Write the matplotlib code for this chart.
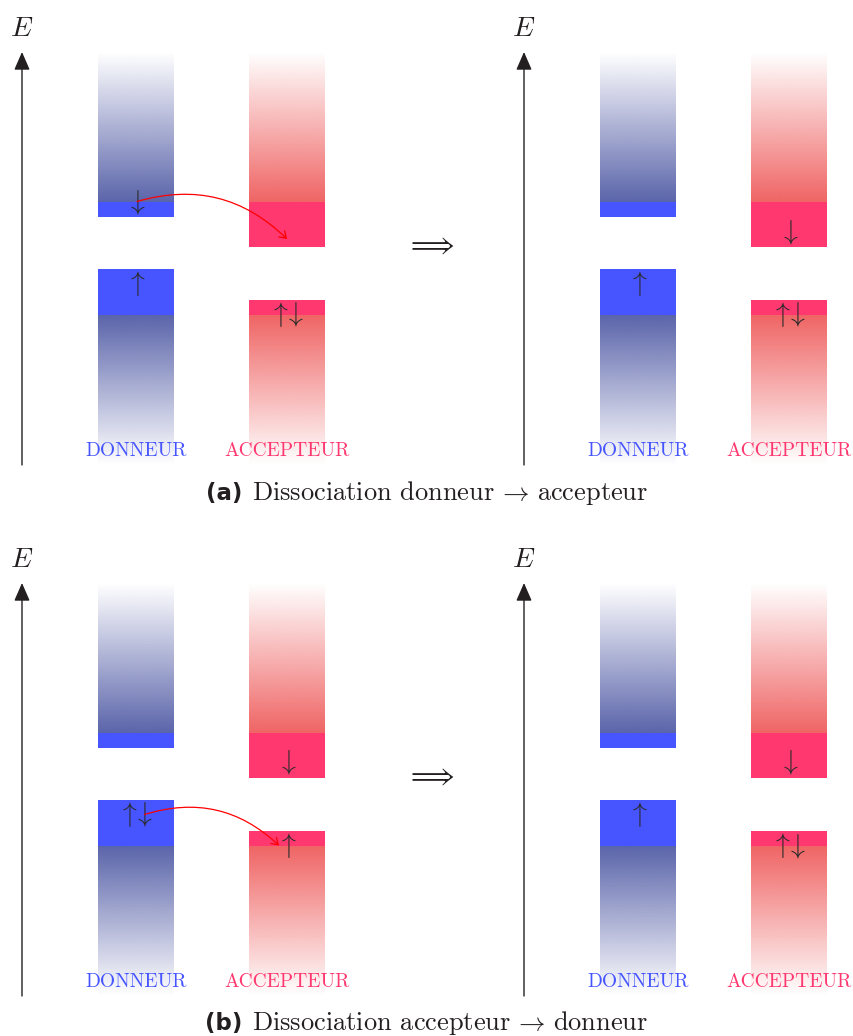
import numpy as np
import matplotlib.pyplot as plt
from matplotlib.patches import Rectangle, FancyArrowPatch
from matplotlib.path import Path
from matplotlib.colors import to_rgb
from matplotlib.offsetbox import TextArea, HPacker, AnchoredOffsetbox

plt.rcParams['mathtext.fontset'] = 'cm'

# energy scale (arbitrary units, 0 = foot of the E axis)
molecules = ["DONNEUR", "ACCEPTEUR"]
homo_top = [196, 165]        # top of the occupied level
lumo_bottom = [248, 218]     # bottom of the empty level
valence_edge = 150           # lower continuum starts here
conduction_edge = 263        # upper continuum starts here
continuum_depth = 150
axis_top = 413

# spins: donor homo, donor lumo, acceptor homo, acceptor lumo
spins_a_before = ["u", "d", "ud", ""]
spins_a_after = ["u", "", "ud", "d"]
spins_b_before = ["ud", "", "u", "d"]
spins_b_after = ["u", "", "ud", "d"]

# electron that jumps: (level of donor, level of acceptor)
transfer_a = ("lumo", "lumo")
transfer_b = ("homo", "homo")

labels = ["(a)", "(b)"]
captions = [r"Dissociation donneur$\,\rightarrow\,$accepteur",
            r"Dissociation accepteur$\,\rightarrow\,$donneur"]

# layout (pixels, 1 data unit = 1 px)
W, H = 854, 1036
col_x = [114, 265]
col_w = 76
right_shift = 502
pair_dx = 7.5
solid = ["#4655ff", "#ff3870"]
grad = ["#5a64aa", "#f06464"]
ink = "#231f20"


def gradient(ax, cx, y0, y1, color, up):
    n = 200
    img = np.ones((n, 1, 4))
    img[:, 0, :3] = to_rgb(color)
    img[:, 0, 3] = np.linspace(1, 0, n) if up else np.linspace(0, 1, n)
    ax.imshow(img, extent=(cx - col_w / 2, cx + col_w / 2, y0, y1),
              origin='lower', aspect='auto', interpolation='bilinear', zorder=1)


def spin_pos(i, level, spins):
    cx = col_x[i]
    s = spins[2 * i + (0 if level == "homo" else 1)]
    y = homo_top[i] - 14.5 if level == "homo" else lumo_bottom[i] + 15.5
    if len(s) == 2:
        return [(cx - pair_dx, y, "u"), (cx + pair_dx, y, "d")]
    return [(cx, y, c) for c in s]


def diagram(ax, x0, spins):
    ax.annotate('', xy=(x0, axis_top), xytext=(x0, 0),
                arrowprops=dict(arrowstyle='-|>,head_length=0.55,head_width=0.24',
                                mutation_scale=20, color=ink, lw=1.0,
                                shrinkA=0, shrinkB=0))
    ax.text(x0, 437, r'$E$', fontsize=20, ha='center', va='center', color=ink)
    for i, name in enumerate(molecules):
        cx = x0 + col_x[i]
        gradient(ax, cx, conduction_edge, conduction_edge + continuum_depth, grad[i], True)
        gradient(ax, cx, valence_edge - continuum_depth, valence_edge, grad[i], False)
        ax.add_patch(Rectangle((cx - col_w / 2, valence_edge), col_w,
                               homo_top[i] - valence_edge, color=solid[i], lw=0, zorder=2))
        ax.add_patch(Rectangle((cx - col_w / 2, lumo_bottom[i]), col_w,
                               conduction_edge - lumo_bottom[i], color=solid[i], lw=0, zorder=2))
        ax.text(cx, 14, name, family='cmr10', fontsize=14, color=solid[i],
                ha='center', va='center', zorder=3)
        for level in ("homo", "lumo"):
            for sx, sy, c in spin_pos(i, level, spins):
                ax.text(x0 + sx, sy, r'$\uparrow$' if c == "u" else r'$\downarrow$',
                        fontsize=20, color='#2b2b2b', ha='center', va='center', zorder=4)


def transfer(ax, spins, levels, end_off):
    start = [p for p in spin_pos(0, levels[0], spins) if p[2] == "d"][0]
    tgt = spin_pos(1, levels[1], spins)
    if tgt:
        ex, ey = tgt[0][0], tgt[0][1]
    else:
        ex, ey = col_x[1], lumo_bottom[1] + 15.5
    p0 = np.array([start[0] + 1, start[1]])
    p3 = np.array([ex + end_off[0], ey + end_off[1]])
    d = p3 - p0
    k = 0.3915 * np.hypot(*d)
    ang = np.arctan2(d[1], d[0])
    # bend left = 30 degrees
    p1 = p0 + k * np.array([np.cos(ang + np.pi / 6), np.sin(ang + np.pi / 6)])
    p2 = p3 - k * np.array([np.cos(ang - np.pi / 6), np.sin(ang - np.pi / 6)])
    path = Path([p0, p1, p2, p3], [Path.MOVETO, Path.CURVE4, Path.CURVE4, Path.CURVE4])
    ax.add_patch(FancyArrowPatch(path=path, arrowstyle='->,head_length=0.45,head_width=0.3',
                                 mutation_scale=10, color='#ff0000', lw=0.9, zorder=5))


fig = plt.figure(figsize=(W / 100, H / 100), dpi=100)
panels = [(465, spins_a_before, spins_a_after, transfer_a, (0, -7.5), 493),
          (996, spins_b_before, spins_b_after, transfer_b, (-8, 0), 1023)]
for k, (oy, before, after, tr, off, cap_y) in enumerate(panels):
    ax = fig.add_axes([0, (H - oy - 5) / H, 1, 460 / H])
    ax.set_xlim(-22, W - 22)
    ax.set_ylim(-5, 455)
    ax.axis('off')
    diagram(ax, 0, before)
    diagram(ax, right_shift, after)
    transfer(ax, before, tr, off)
    ax.text(408.5, 220, r'$\Longrightarrow$', fontsize=20, ha='center', va='center', color=ink)

    box = HPacker(children=[TextArea(labels[k], textprops=dict(family='DejaVu Sans', weight='bold',
                                                                fontsize=16.5, color=ink)),
                            TextArea(captions[k], textprops=dict(family='cmr10', fontsize=19, color=ink))],
                  align='baseline', sep=7, pad=0)
    anchored = AnchoredOffsetbox(loc='center', child=box, frameon=False, pad=0, borderpad=0,
                                 bbox_to_anchor=(427 / W, 1 - cap_y / H),
                                 bbox_transform=fig.transFigure)
    fig.add_artist(anchored)

fig.savefig('out.png', dpi=100)
